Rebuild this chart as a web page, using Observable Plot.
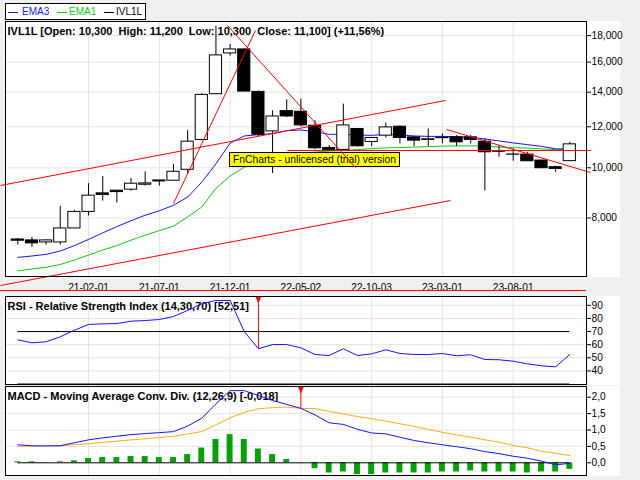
<!DOCTYPE html>
<html><head><meta charset="utf-8">
<script src="https://cdn.jsdelivr.net/npm/d3@7"></script>
<script src="https://cdn.jsdelivr.net/npm/@observablehq/plot@0.6"></script>
<style>
html,body{margin:0;padding:0;background:#f0f0f0;}
#wrap{position:relative;width:640px;height:480px;overflow:hidden;background:#f0f0f0;font-family:"Liberation Sans",Arial,sans-serif;}
.abs{position:absolute;}
.wcol{position:absolute;left:586px;width:34px;background:#fff;}
#legend{left:5px;top:3px;width:139px;height:15px;border:1px solid #000;background:#fff;font-size:10px;}
#legend .ln{position:absolute;top:8px;width:10px;height:1px;}
#legend .tx{position:absolute;top:1px;line-height:14px;white-space:nowrap;}
#sep{left:0;top:290px;width:586px;height:1px;background:#ff0000;}
</style></head>
<body>
<div id="wrap">
  <div class="wcol" style="top:21px;height:256px"></div>
  <div class="wcol" style="top:296px;height:89px"></div>
  <div class="wcol" style="top:386px;height:90px"></div>
  <div id="main" class="abs" style="left:0;top:0"></div>
  <div id="sep" class="abs"></div>
  <div id="rsi" class="abs" style="left:0;top:296px"></div>
  <div id="macd" class="abs" style="left:0;top:386px"></div>
  <div id="legend" class="abs">
    <span class="ln" style="left:2px;background:#1414ff"></span><span class="tx" style="left:16px;color:#1414ff">EMA3</span>
    <span class="ln" style="left:51px;background:#14c814"></span><span class="tx" style="left:63px;color:#14c814">EMA1</span>
    <span class="ln" style="left:98px;background:#000"></span><span class="tx" style="left:110px;color:#000">IVL1L</span>
  </div>
</div>
<script>
// ---------- data ----------
const months = ["2020-09","2020-10","2020-11","2020-12","2021-01","2021-02","2021-03","2021-04","2021-05","2021-06",
  "2021-07","2021-08","2021-09","2021-10","2021-11","2021-12","2022-01","2022-02","2022-03","2022-04",
  "2022-05","2022-06","2022-07","2022-08","2022-09","2022-10","2022-11","2022-12","2023-01","2023-02",
  "2023-03","2023-04","2023-05","2023-06","2023-07","2023-08","2023-09","2023-10","2023-11","2023-12"];
const tickIdx = [5,10,15,20,25,30,35];
const tickLabels = ["21-02-01","21-07-01","21-12-01","22-05-02","22-10-03","23-03-01","23-08-01"];

const open  = [7270,7240,7175,7175,7635,8218,8925,9032,9073,9275,9412,9441,9912,11319,13874,16634,16930,14016,11758,12869,
  12829,12058,10925,10829,11884,11219,11536,12005,11450,11350,11430,11450,11450,11234,10760,10610,10606,10328,10027,10300];
const high  = [7305,7335,7270,8426,8278,9317,9622,9040,9538,9824,9460,10147,11794,13914,18770,17310,16950,14070,12886,13528,
  13565,12328,11037,13274,11900,11419,12203,12050,11480,11884,11623,11536,11552,11369,11037,10877,10715,10340,10030,11200];
const low   = [7090,7020,7090,7090,7635,8072,8626,8550,9005,9218,9218,9441,9738,11300,13874,16436,14035,11486,9750,12510,
  12000,10844,10795,10796,10980,10988,11419,11120,10988,10988,11120,10988,11120,9016,10480,10296,10296,9960,9807,10300];
const close = [7230,7145,7240,7635,8218,8835,8859,8976,9317,9329,9453,9824,11234,13831,16487,16930,14035,11587,12565,12565,
  12074,10906,10829,12074,11003,11419,11968,11419,11284,11320,11410,11200,11319,10715,10740,10600,10296,9982,9950,11100];

const ema3 = [6715,6754,6805,6904,7075,7272,7487,7696,7902,8097,8260,8464,8780,9383,10179,11160,11521,11587,11639,11794,
  11831,11742,11603,11603,11572,11551,11603,11572,11521,11500,11500,11485,11450,11369,11269,11170,11086,11003,10877,10877];
const ema1 = [6320,6376,6424,6504,6635,6783,6936,7075,7249,7411,7561,7713,8036,8400,9125,9644,10027,10238,10420,10559,
  10653,10724,10771,10795,10843,10892,10925,10940,10964,10988,11013,11022,11022,11013,10964,10940,10916,10877,10843,10843];

const priceTicks = [8000,10000,12000,14000,16000,18000];
const priceTickLabels = ["8,000","10,000","12,000","14,000","16,000","18,000"];

// hand-drawn trend lines (bar index, price)
const trendIdx1   = [-1.22,-1.22,11.0,14.82,19.05,30.29];
const trendPrice1 = [9243,5924,8532,18833,10800,11858];
const trendIdx2   = [30.22,30.57,16.79,23.86,40.46,40.46];
const trendPrice2 = [13490,8646,18420,10013,10800,9793];

const rsi = [63.7,61.4,62.2,66.0,71.0,75.4,75.9,76.1,77.9,78.4,79.2,81.5,86.1,91.2,93.7,93.7,70.0,56.9,60.1,60.1,
  57.6,52.5,51.7,56.9,51.7,53.0,56.1,53.3,52.5,52.5,53.3,51.5,52.3,48.7,48.5,47.4,45.4,43.9,43.1,52.51];
const rsiTicks = [40,50,60,70,80,90];
const rsiGrid = [40,50,60,80,90];
const rsiLevels = [30,70];
const rsiSignal = 17;

const macd = [0.549,0.518,0.518,0.518,0.61,0.70,0.76,0.81,0.86,0.89,0.92,0.95,1.12,1.36,1.80,2.20,2.20,2.05,1.90,1.78,
  1.66,1.46,1.22,1.17,1.02,0.91,0.88,0.78,0.68,0.61,0.55,0.49,0.43,0.34,0.28,0.20,0.14,0.05,-0.06,-0.018];
const signal = [0.50,0.51,0.51,0.52,0.55,0.58,0.62,0.66,0.70,0.73,0.77,0.81,0.88,0.95,1.16,1.37,1.54,1.65,1.68,1.70,
  1.66,1.65,1.57,1.49,1.41,1.34,1.27,1.19,1.11,1.02,0.93,0.85,0.78,0.70,0.63,0.53,0.46,0.35,0.29,0.22];
const hist = [0.03,0.03,0,0.03,0.06,0.13,0.16,0.16,0.19,0.19,0.16,0.16,0.25,0.45,0.71,0.86,0.71,0.42,0.25,0.10,
  0,-0.18,-0.31,-0.28,-0.36,-0.36,-0.31,-0.31,-0.31,-0.31,-0.28,-0.28,-0.25,-0.28,-0.28,-0.28,-0.31,-0.28,-0.28,-0.20];
const macdTicks = [0,0.5,1,1.5,2];
const macdGrid = [0.5,1,1.5,2];
const macdSignal = 20;

const mainTitle = "IVL1L [Open: 10,300\u00a0 High: 11,200\u00a0 Low: 10,300\u00a0 Close: 11,100] (+11,56%)";
const rsiTitle = "RSI - Relative Strength Index (14,30,70) [52,51]";
const macdTitle = "MACD - Moving Average Conv. Div. (12,26,9) [-0,018]";
const watermarkText = "FnCharts - unlicensed (trial) version";

// ---------- styling ----------
const FONT = "'Liberation Sans', Arial, sans-serif";
const BLUE = "#1414ff", GREEN = "#14c814", GRID = "#e3e3e3", ORANGE = "#ffac1c", BAR = "#08a008";
const xDomain = [-0.869, 40.18];
const idx = d3.range(open.length);
const candles = idx.map(i => ({i, o: open[i], h: high[i], l: low[i], c: close[i]}));
const up = candles.filter(d => d.c > d.o), down = candles.filter(d => d.c <= d.o);
const W = 0.43;
const style = {background:"transparent", fontFamily: FONT, fontSize:"10.2px", color:"#000", overflow:"visible"};
const downTri = {draw(ctx){ ctx.moveTo(-3,-3.5); ctx.lineTo(3,-3.5); ctx.lineTo(0,3.5); ctx.closePath(); }};

function watermark() {
  const g = d3.create("svg:g");
  g.append("rect").attr("x",229.5).attr("y",152.5).attr("width",170).attr("height",14)
    .attr("fill","#ffff00").attr("stroke","#000");
  g.append("text").attr("x",233).attr("y",162.8).attr("font-size",10.5).attr("font-family",FONT)
    .attr("text-anchor","start").attr("textLength",163).attr("lengthAdjust","spacingAndGlyphs")
    .attr("fill","#000").text(watermarkText);
  return g.node();
}

// ---------- main price panel ----------
const yTop = 19170;
const main = Plot.plot({
  width:640, height:297, marginTop:21, marginBottom:21, marginLeft:5, marginRight:54, style,
  x:{type:"linear", domain:xDomain, label:null},
  y:{type:"log", domain:[6166, yTop], label:null},
  marks:[
    Plot.frame({fill:"#fff"}),
    Plot.gridX(tickIdx, {stroke:GRID, strokeOpacity:1}),
    Plot.gridY(priceTicks, {stroke:GRID, strokeOpacity:1}),
    Plot.text([mainTitle], {frameAnchor:"top-left", dx:2, dy:6, fontWeight:"bold", fontSize:11, fill:"#000"}),
    Plot.line(idx, {x:i=>i, y:i=>ema1[i], stroke:GREEN, strokeWidth:1}),
    Plot.line(idx, {x:i=>i, y:i=>ema3[i], stroke:BLUE, strokeWidth:1}),
    Plot.ruleX(candles, {x:"i", y1:"l", y2:"h", stroke:"#000"}),
    Plot.rect(up, {x1:d=>d.i-W, x2:d=>d.i+W, y1:"o", y2:"c", fill:"#fff", stroke:"#000"}),
    Plot.rect(down, {x1:d=>d.i-W, x2:d=>d.i+W, y1:"o", y2:"c", fill:"#000", stroke:"#000"}),
    watermark,
    Plot.link(trendIdx1.map((_,k)=>k), {x1:k=>trendIdx1[k], y1:k=>trendPrice1[k], x2:k=>trendIdx2[k], y2:k=>trendPrice2[k], stroke:"#ff0000", strokeWidth:1}),
    Plot.frame({stroke:"#000"}),
    Plot.axisY(priceTicks, {anchor:"right", tickSize:4, tickPadding:1, tickFormat:()=>"", label:null}),
    Plot.text(priceTicks, {y:d=>d, text:d=>priceTickLabels[priceTicks.indexOf(d)], frameAnchor:"right", textAnchor:"start", dx:5, fill:"#000"}),
    Plot.axisX(tickIdx, {anchor:"bottom", tickSize:0, tickPadding:7, label:null, tickFormat:d=>tickLabels[tickIdx.indexOf(d)]})
  ]
});
document.getElementById("main").append(main);

// ---------- RSI panel ----------
const rsiTop = 96.73;
const rsiPlot = Plot.plot({
  width:640, height:89, marginTop:0, marginBottom:1, marginLeft:5, marginRight:54, style,
  x:{type:"linear", domain:xDomain, axis:null},
  y:{domain:[29.63, rsiTop], label:null},
  marks:[
    Plot.frame({fill:"#fff"}),
    Plot.gridX(tickIdx, {stroke:GRID, strokeOpacity:1}),
    Plot.gridY(rsiGrid, {stroke:GRID, strokeOpacity:1}),
    Plot.ruleY(rsiLevels, {y:d=>d, x1:0, x2:39, stroke:"#000"}),
    Plot.text([rsiTitle], {frameAnchor:"top-left", dx:2, dy:6, fontWeight:"bold", fontSize:11, fill:"#000"}),
    Plot.line(idx, {x:i=>i, y:i=>rsi[i], stroke:BLUE, strokeWidth:1}),
    Plot.ruleX([rsiSignal], {x:d=>d, y1:d=>rsi[d], y2:rsiTop, stroke:"#ff0000"}),
    Plot.dot([rsiSignal], {x:d=>d, y:rsiTop, symbol:downTri, fill:"#ff0000", stroke:null, dy:3.5}),
    Plot.frame({stroke:"#000"}),
    Plot.axisY(rsiTicks, {anchor:"right", tickSize:4, tickPadding:1, label:null})
  ]
});
document.getElementById("rsi").append(rsiPlot);

// ---------- MACD panel ----------
const macdTop = 2.326;
const macdPlot = Plot.plot({
  width:640, height:90, marginTop:0, marginBottom:1, marginLeft:5, marginRight:54, style,
  x:{type:"linear", domain:xDomain, axis:null},
  y:{domain:[-0.387, macdTop], label:null},
  marks:[
    Plot.frame({fill:"#fff"}),
    Plot.gridX(tickIdx, {stroke:GRID, strokeOpacity:1}),
    Plot.gridY(macdGrid, {stroke:GRID, strokeOpacity:1}),
    Plot.rect(idx.filter(i=>hist[i]!==0), {x1:i=>i-0.21, x2:i=>i+0.21, y1:0, y2:i=>hist[i], fill:BAR}),
    Plot.ruleY([0], {x1:0, x2:39, stroke:"#000"}),
    Plot.text([macdTitle], {frameAnchor:"top-left", dx:2, dy:6, fontWeight:"bold", fontSize:11, fill:"#000"}),
    Plot.line(idx, {x:i=>i, y:i=>signal[i], stroke:ORANGE, strokeWidth:1}),
    Plot.line(idx, {x:i=>i, y:i=>macd[i], stroke:BLUE, strokeWidth:1}),
    Plot.ruleX([macdSignal], {x:d=>d, y1:d=>macd[d], y2:macdTop, stroke:"#ff0000"}),
    Plot.dot([macdSignal], {x:d=>d, y:macdTop, symbol:downTri, fill:"#ff0000", stroke:null, dy:3.5}),
    Plot.frame({stroke:"#000"}),
    Plot.axisY(macdTicks, {anchor:"right", tickSize:4, tickPadding:1, label:null, tickFormat:d=>d.toFixed(1).replace(".", ",")})
  ]
});
document.getElementById("macd").append(macdPlot);
</script>
</body></html>
